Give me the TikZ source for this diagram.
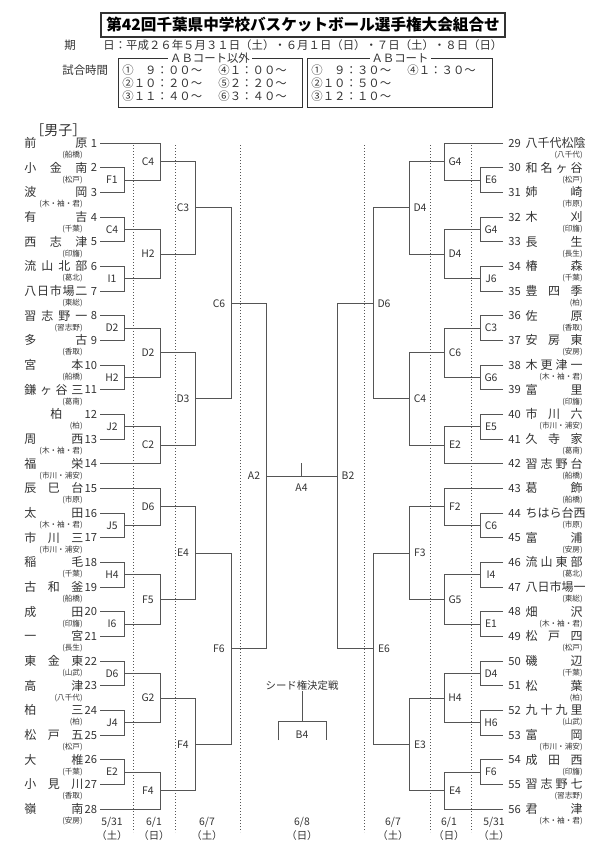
\documentclass[tikz,border=0pt]{standalone}
\usepackage{fontspec}
\setmainfont{Noto Sans CJK JP}
\usetikzlibrary{calc}
\makeatletter
\newcommand\spr[1]{\let\spfirst\@empty\@tfor\spx:=#1\do{\ifx\spfirst\@empty\else\hfill\fi\def\spfirst{x}\spx}}
\makeatother
\definecolor{ink}{HTML}{333333}
\definecolor{ln}{HTML}{555555}
\tikzset{
 br/.style={draw=ln,line width=0.45pt},
 dot/.style={draw=ln,line width=0.5pt,dash pattern=on 0.6pt off 0.9pt},
 nm/.style={inner sep=0pt,text=ink,font=\fontsize{6}{6}\selectfont},
 num/.style={inner sep=0pt,text=ink,font=\fontsize{5.6}{6}\selectfont},
 ds/.style={inner sep=0pt,text=ink,font=\fontsize{3.8}{4}\selectfont},
 lab/.style={inner sep=0pt,text=ink,font=\fontsize{5.2}{6}\selectfont},
 hd/.style={inner sep=0pt,text=ink,font=\fontsize{5.7}{6}\selectfont},
}
\newcommand\tl[3]{%
 \pgfmathsetmacro\yy{143+(#1-1)*24.667}
 \coordinate (t#1) at (100,\yy);
 \node[num,anchor=east] (k#1) at (97.5,\yy) {#1};
 \ifnum#1<10\def\ww{31.5pt}\else\def\ww{29.5pt}\fi
 \node[nm,anchor=west] (s#1) at (24,\yy) {\makebox[\ww][s]{\spr{#2}}};
 \node[ds,anchor=east] (d#1) at (83,{\yy+12}) {(#3)};}
\newcommand\tr[3]{%
 \pgfmathsetmacro\yy{143+(#1-29)*24.667}
 \coordinate (t#1) at (503,\yy);
 \node[num,anchor=west] (k#1) at (508,\yy) {#1};
 \node[nm,anchor=east] (s#1) at (583,\yy) {\makebox[28.5pt][s]{\spr{#2}}};
 \node[ds,anchor=east] (d#1) at (583,{\yy+12}) {(#3)};}
\newcommand\mt[4]{%
 \draw[br] (#3) -- (#3 -| #2) -- (#4 -| #2) -- (#4);
 \path ($(#3)!0.5!(#4)$) coordinate (#1h);
 \coordinate (#1) at (#1h -| #2);}
\newcommand\mL[5]{\mt{#1}{#3}{#4}{#5}\node[lab] (l#1) at ([xshift=-6pt]#1) {#2};}
\newcommand\mR[5]{\mt{#1}{#3}{#4}{#5}\node[lab] (l#1) at ([xshift=5.5pt]#1) {#2};}
\begin{document}
\begin{tikzpicture}[x=0.5pt,y=-0.5pt]
\useasboundingbox (0,0) rectangle (600,858);
\fill[white] (0,0) rectangle (600,858);
% header
\draw[line width=1.1pt,ink] (101,13) rectangle (505,37);
\node[inner sep=0pt,text=black,font=\fontsize{7.8}{8}\selectfont\bfseries] (title) at (303,25) {第42回千葉県中学校バスケットボール選手権大会組合せ};
\node[hd,anchor=west] (ki) at (64,45) {期};
\node[hd,anchor=west] (hi) at (103,45) {日：平成２６年５月３１日（土）・６月１日（日）・７日（土）・８日（日）};
\node[hd,anchor=west] (jk) at (62,70) {試合時間};
\draw[br,draw=ink] (118,58) rectangle (302,107);
\draw[br,draw=ink] (307,58) rectangle (492,107);
\node[hd,fill=white,inner xsep=1pt] (b1) at (210,58) {ＡＢコート以外};
\node[hd,fill=white,inner xsep=1pt] (b2) at (400,58) {ＡＢコート};
\node[hd,anchor=west] (r11) at (122,70) {①　９：００～};
\node[hd,anchor=west] (r12) at (218,70) {④１：００～};
\node[hd,anchor=west] (r21) at (122,83) {②１０：２０～};
\node[hd,anchor=west] (r22) at (218,83) {⑤２：２０～};
\node[hd,anchor=west] (r31) at (122,96) {③１１：４０～};
\node[hd,anchor=west] (r32) at (218,96) {⑥３：４０～};
\node[hd,anchor=west] (q11) at (311,70) {①　９：３０～};
\node[hd,anchor=west] (q12) at (407,70) {④１：３０～};
\node[hd,anchor=west] (q21) at (311,83) {②１０：５０～};
\node[hd,anchor=west] (q31) at (311,96) {③１２：１０～};
\node[inner sep=0pt,text=ink,font=\fontsize{7}{7}\selectfont,anchor=west] (boys) at (30,130) {［男子］};
% dotted columns
\foreach \x in {133,175,240,364,430,471} \draw[dot] (\x,145) -- (\x,832);
% columns
\coordinate (cL1) at (124,0); \coordinate (cL2) at (160,0); \coordinate (cL3) at (195,0);
\coordinate (cL4) at (231,0); \coordinate (cL5) at (266,0);
\coordinate (cR1) at (480,0); \coordinate (cR2) at (444,0); \coordinate (cR3) at (409,0);
\coordinate (cR4) at (373,0); \coordinate (cR5) at (337,0);
% left teams
\tl{1}{前原}{船橋}
\tl{2}{小金南}{松戸}
\tl{3}{波岡}{木・袖・君}
\tl{4}{有吉}{千葉}
\tl{5}{西志津}{印旛}
\tl{6}{流山北部}{葛北}
\tl{7}{八日市場二}{東総}
\tl{8}{習志野一}{習志野}
\tl{9}{多古}{香取}
\tl{10}{宮本}{船橋}
\tl{11}{鎌ヶ谷三}{葛南}
\coordinate (t12) at (100,{143+11*24.667});
\node[num,anchor=east] (k12) at (97.5,{143+11*24.667}) {12};
\node[nm,anchor=west] (s12) at (50,{143+11*24.667}) {柏};
\node[ds,anchor=east] (d12) at (83,{155+11*24.667}) {(柏)};
\tl{13}{周西}{木・袖・君}
\tl{14}{福栄}{市川・浦安}
\tl{15}{辰巳台}{市原}
\tl{16}{太田}{木・袖・君}
\tl{17}{市川三}{市川・浦安}
\tl{18}{稲毛}{千葉}
\tl{19}{古和釜}{船橋}
\tl{20}{成田}{印旛}
\tl{21}{一宮}{長生}
\tl{22}{東金東}{山武}
\tl{23}{高津}{八千代}
\tl{24}{柏三}{柏}
\tl{25}{松戸五}{松戸}
\tl{26}{大椎}{千葉}
\tl{27}{小見川}{香取}
\tl{28}{嶺南}{安房}
% right teams
\tr{29}{八千代松陰}{八千代}
\tr{30}{和名ヶ谷}{松戸}
\tr{31}{姉崎}{市原}
\tr{32}{木刈}{印旛}
\tr{33}{長生}{長生}
\tr{34}{椿森}{千葉}
\tr{35}{豊四季}{柏}
\tr{36}{佐原}{香取}
\tr{37}{安房東}{安房}
\tr{38}{木更津一}{木・袖・君}
\tr{39}{富里}{印旛}
\tr{40}{市川六}{市川・浦安}
\tr{41}{久寺家}{葛南}
\tr{42}{習志野台}{船橋}
\tr{43}{葛飾}{船橋}
\tr{44}{ちはら台西}{市原}
\tr{45}{富浦}{安房}
\tr{46}{流山東部}{葛北}
\tr{47}{八日市場一}{東総}
\tr{48}{畑沢}{木・袖・君}
\tr{49}{松戸四}{松戸}
\tr{50}{磯辺}{千葉}
\tr{51}{松葉}{柏}
\tr{52}{九十九里}{山武}
\tr{53}{富岡}{市川・浦安}
\tr{54}{成田西}{印旛}
\tr{55}{習志野七}{習志野}
\tr{56}{君津}{木・袖・君}
% left bracket
\mL{m1}{F1}{cL1}{t2}{t3}
\mL{m2}{C4}{cL2}{t1}{m1}
\mL{m3}{C4}{cL1}{t4}{t5}
\mL{m4}{I1}{cL1}{t6}{t7}
\mL{m5}{H2}{cL2}{m3}{m4}
\mL{m6}{C3}{cL3}{m2}{m5}
\mL{m7}{D2}{cL1}{t8}{t9}
\mL{m8}{H2}{cL1}{t10}{t11}
\mL{m9}{D2}{cL2}{m7}{m8}
\mL{m10}{J2}{cL1}{t12}{t13}
\mL{m11}{C2}{cL2}{m10}{t14}
\mL{m12}{D3}{cL3}{m9}{m11}
\mL{m13}{C6}{cL4}{m6}{m12}
\mL{m14}{J5}{cL1}{t16}{t17}
\mL{m15}{D6}{cL2}{t15}{m14}
\mL{m16}{H4}{cL1}{t18}{t19}
\mL{m17}{I6}{cL1}{t20}{t21}
\mL{m18}{F5}{cL2}{m16}{m17}
\mL{m19}{E4}{cL3}{m15}{m18}
\mL{m20}{D6}{cL1}{t22}{t23}
\mL{m21}{J4}{cL1}{t24}{t25}
\mL{m22}{G2}{cL2}{m20}{m21}
\mL{m23}{E2}{cL1}{t26}{t27}
\mL{m24}{F4}{cL2}{m23}{t28}
\mL{m25}{F4}{cL3}{m22}{m24}
\mL{m26}{F6}{cL4}{m19}{m25}
\mL{m27}{A2}{cL5}{m13}{m26}
% right bracket
\mR{n1}{E6}{cR1}{t30}{t31}
\mR{n2}{G4}{cR2}{t29}{n1}
\mR{n3}{G4}{cR1}{t32}{t33}
\mR{n4}{J6}{cR1}{t34}{t35}
\mR{n5}{D4}{cR2}{n3}{n4}
\mR{n6}{D4}{cR3}{n2}{n5}
\mR{n7}{C3}{cR1}{t36}{t37}
\mR{n8}{G6}{cR1}{t38}{t39}
\mR{n9}{C6}{cR2}{n7}{n8}
\mR{n10}{E5}{cR1}{t40}{t41}
\mR{n11}{E2}{cR2}{n10}{t42}
\mR{n12}{C4}{cR3}{n9}{n11}
\mR{n13}{D6}{cR4}{n6}{n12}
\mR{n14}{C6}{cR1}{t44}{t45}
\mR{n15}{F2}{cR2}{t43}{n14}
\mR{n16}{I4}{cR1}{t46}{t47}
\mR{n17}{E1}{cR1}{t48}{t49}
\mR{n18}{G5}{cR2}{n16}{n17}
\mR{n19}{F3}{cR3}{n15}{n18}
\mR{n20}{D4}{cR1}{t50}{t51}
\mR{n21}{H6}{cR1}{t52}{t53}
\mR{n22}{H4}{cR2}{n20}{n21}
\mR{n23}{F6}{cR1}{t54}{t55}
\mR{n24}{E4}{cR2}{n23}{t56}
\mR{n25}{E3}{cR3}{n22}{n24}
\mR{n26}{E6}{cR4}{n19}{n25}
\mR{n27}{B2}{cR5}{n13}{n26}
% final
\draw[br] (m27) -- (n27);
\path ($(m27)!0.5!(n27)$) coordinate (fin);
\draw[br] (fin) -- ++(0,-13);
\node[lab] (A4) at ([yshift=-6pt]fin) {A4};
% seed match
\node[lab] (seed) at (302,686) {シード権決定戦};
\coordinate (sb) at (302,721);
\draw[br] (seed.south) -- (sb);
\draw[br] (278,740) -- (278,721) -- (326,721) -- (326,740);
\node[lab] (B4) at (302,735) {B4};
% dates
\foreach \x/\d/\w [count=\i] in {112/5\slash31/土,154/6\slash1/日,207/6\slash7/土,302/6\slash8/日,393/6\slash7/土,449/6\slash1/日,494/5\slash31/土}{
 \node[lab] (dt\i) at (\x,822) {\d};
 \node[lab] (dw\i) at (\x,836) {（\w）};}
\end{tikzpicture}
\end{document}
